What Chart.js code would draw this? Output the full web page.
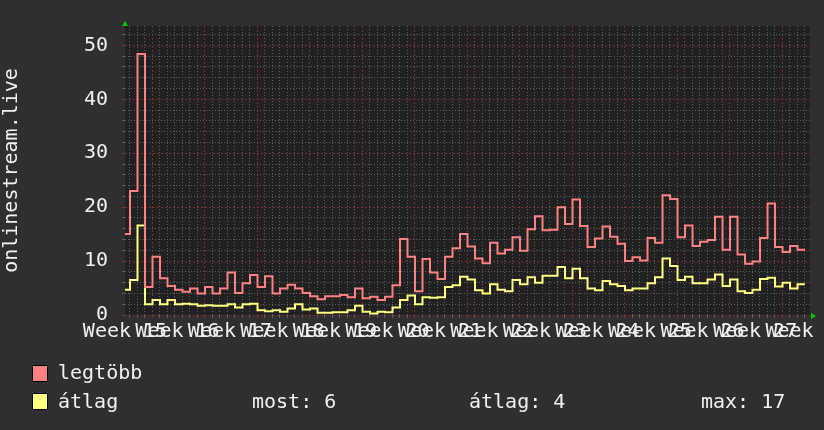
<!DOCTYPE html>
<html>
<head>
<meta charset="utf-8">
<script src="https://cdn.jsdelivr.net/npm/chart.js@4"></script>
<style>
  body { margin: 0; background: #2f2f2f; }
  #wrap { position: relative; width: 824px; height: 430px; background: #2f2f2f; overflow: hidden; }
  #wrap canvas { position: absolute; left: 0; top: 0; }
  .leg { position: absolute; font: 20px 'DejaVu Sans Mono', monospace; line-height: 24px; color: #f0f0f0; white-space: pre; }
  .box { position: absolute; width: 14px; height: 15px; border: 1px solid #000; }
</style>
</head>
<body>
<div id="wrap">
  <canvas id="c" width="824" height="430"></canvas>
</div>
<script>
// daily samples
const maxValues = [
  15.0, 23.0, 48.4, 5.2, 10.8, 6.8, 5.4, 4.7, 4.3, 4.9,
  4.0, 5.2, 4.0, 4.9, 7.9, 4.1, 5.9, 7.4, 5.2, 7.2,
  4.0, 4.9, 5.6, 4.9, 4.1, 3.5, 2.9, 3.5, 3.5, 3.7,
  3.3, 4.9, 3.1, 3.4, 2.8, 3.4, 5.5, 14.1, 10.8, 4.4,
  10.4, 7.9, 6.7, 10.8, 12.4, 15.0, 12.7, 10.5, 9.6, 13.4,
  11.4, 12.1, 14.4, 11.9, 15.9, 18.3, 15.7, 15.8, 20.0, 16.9,
  21.4, 16.5, 12.6, 14.2, 16.4, 14.5, 13.2, 10.0, 10.7, 10.1,
  14.3, 13.4, 22.2, 21.5, 14.4, 16.6, 12.8, 13.6, 13.9, 18.2,
  12.1, 18.2, 11.2, 9.5, 9.9, 14.3, 20.7, 12.6, 11.7, 12.8,
  12.1
];
const avgValues = [
  4.7, 6.5, 16.6, 2.0, 2.8, 2.0, 2.8, 2.0, 2.1, 2.0,
  1.7, 1.8, 1.7, 1.7, 2.0, 1.4, 2.0, 2.1, 0.9, 0.7,
  0.9, 0.6, 1.2, 2.0, 1.0, 1.2, 0.4, 0.4, 0.5, 0.5,
  0.9, 1.7, 0.6, 0.3, 0.6, 0.5, 1.4, 2.8, 3.6, 2.0,
  3.3, 3.2, 3.3, 5.2, 5.5, 7.1, 6.6, 4.6, 4.0, 5.7,
  4.7, 4.4, 6.5, 5.7, 7.0, 6.0, 7.3, 7.3, 8.9, 6.8,
  8.6, 6.8, 4.9, 4.6, 6.3, 5.7, 5.4, 4.6, 4.9, 4.9,
  5.9, 7.0, 10.5, 9.1, 6.5, 7.1, 5.9, 5.9, 6.6, 7.5,
  5.4, 6.6, 4.4, 4.1, 4.7, 6.7, 6.9, 5.3, 6.0, 4.9,
  5.7
];
const weekLabels = ['Week 15', 'Week 16', 'Week 17', 'Week 18', 'Week 19', 'Week 20', 'Week 21',
  'Week 22', 'Week 23', 'Week 24', 'Week 25', 'Week 26', 'Week 27', 'Week 28'];
const seriesNames = ['legtöbb', 'átlag'];
const seriesColors = ['#ff8080', '#ffff80'];
const statTexts = ['most: 6', 'átlag: 4', 'max: 17'];
const yTitle = 'onlinestream.live';

// time axis in days from the left edge of the plot
const daysShown = 91.33;
const firstSampleDay = -1 / 3;
const firstGridDay = 0.6;
const firstWeekLineDay = 3.6;
const yMax = 53.6;

const FONT = 'DejaVu Sans Mono';
const MINOR = '#5e5e5e';
const MAJOR = '#743232';

function toPoints(values) {
  const pts = values.map((v, i) => ({ x: firstSampleDay + i, y: v }));
  // close the last step
  pts.push({ x: firstSampleDay + values.length, y: values[values.length - 1] });
  return pts;
}

function isWeekLine(v) {
  const d = (v - firstWeekLineDay) / 7;
  return Math.abs(d - Math.round(d)) < 0.01;
}

const bgPlugin = {
  id: 'bg',
  beforeDraw(chart) {
    const { ctx, chartArea: a } = chart;
    ctx.save();
    ctx.fillStyle = '#2f2f2f';
    ctx.fillRect(0, 0, chart.width, chart.height);
    ctx.fillStyle = '#212121';
    ctx.fillRect(a.left, a.top, a.right - a.left, a.bottom - a.top);
    ctx.restore();
  }
};

const arrowPlugin = {
  id: 'arrows',
  afterDraw(chart) {
    const { ctx, chartArea: a } = chart;
    ctx.save();
    ctx.fillStyle = '#00cc00';
    ctx.beginPath();
    ctx.moveTo(a.left, a.top - 5);
    ctx.lineTo(a.left - 3, a.top);
    ctx.lineTo(a.left + 3, a.top);
    ctx.fill();
    ctx.beginPath();
    ctx.moveTo(a.right + 6, a.bottom + 1);
    ctx.lineTo(a.right + 1, a.bottom - 2);
    ctx.lineTo(a.right + 1, a.bottom + 4);
    ctx.fill();
    ctx.restore();
  }
};

new Chart(document.getElementById('c'), {
  type: 'line',
  data: {
    datasets: [
      { label: seriesNames[0], data: toPoints(maxValues), borderColor: seriesColors[0], borderWidth: 2, pointRadius: 0, stepped: true, xAxisID: 'x' },
      { label: seriesNames[1], data: toPoints(avgValues), borderColor: seriesColors[1], borderWidth: 2, pointRadius: 0, stepped: true, xAxisID: 'x' }
    ]
  },
  options: {
    responsive: false,
    animation: false,
    devicePixelRatio: 1,
    layout: { padding: { top: 13, right: 14, left: 0, bottom: 0 } },
    plugins: { legend: { display: false }, tooltip: { enabled: false } },
    scales: {
      x: {
        type: 'linear',
        position: 'bottom',
        weight: 0,
        min: 0,
        max: daysShown,
        afterBuildTicks(scale) {
          const t = [];
          for (let d = firstGridDay; d < daysShown; d += 1) t.push({ value: d });
          scale.ticks = t;
        },
        afterFit(scale) { scale.height = 3; scale.paddingLeft = 0; scale.paddingRight = 0; },
        ticks: { display: false, autoSkip: false },
        border: { display: false, dash: ctx => (ctx.tick && isWeekLine(ctx.tick.value)) ? [2, 2] : [1, 2] },
        grid: {
          drawTicks: true,
          tickLength: 3,
          color: ctx => (ctx.tick && isWeekLine(ctx.tick.value)) ? MAJOR : MINOR
        }
      },
      xl: {
        type: 'linear',
        position: 'bottom',
        weight: 1,
        min: 0,
        max: daysShown,
        afterBuildTicks(scale) {
          scale.ticks = weekLabels.map((_, i) => ({ value: i * 7 }));
        },
        afterFit(scale) { scale.height = 112; scale.paddingLeft = 0; scale.paddingRight = 0; },
        border: { display: false },
        grid: { display: false, drawTicks: false },
        ticks: {
          autoSkip: false,
          maxRotation: 0,
          minRotation: 0,
          padding: 2,
          color: '#f0f0f0',
          font: { family: FONT, size: 20 },
          callback: (v, i) => weekLabels[i]
        }
      },
      y: {
        min: 0,
        max: yMax,
        afterBuildTicks(scale) {
          const t = [];
          for (let v = 0; v <= yMax; v += 2) t.push({ value: v });
          scale.ticks = t;
        },
        afterFit(scale) { scale.width = 125; },
        border: { display: false, dash: ctx => (ctx.tick && ctx.tick.value % 10 === 0) ? [2, 2] : [1, 2] },
        grid: {
          tickLength: 3,
          color: ctx => (ctx.tick && ctx.tick.value % 10 === 0) ? MAJOR : MINOR
        },
        ticks: {
          autoSkip: false,
          padding: 14,
          color: '#f0f0f0',
          font: { family: FONT, size: 20 },
          callback: v => (v % 10 === 0 ? String(v) : '')
        },
        title: {
          display: true,
          text: yTitle,
          color: '#f0f0f0',
          padding: { top: 0, bottom: 0 },
          font: { family: FONT, size: 20 }
        }
      }
    }
  },
  plugins: [bgPlugin, arrowPlugin]
});

// legend below the plot
const wrap = document.getElementById('wrap');
function addText(txt, left, top) {
  const d = document.createElement('div');
  d.className = 'leg';
  d.style.left = left + 'px';
  d.style.top = top + 'px';
  d.textContent = txt;
  wrap.appendChild(d);
}
function addBox(color, top) {
  const b = document.createElement('div');
  b.className = 'box';
  b.style.left = '32px';
  b.style.top = top + 'px';
  b.style.background = color;
  wrap.appendChild(b);
}
addBox(seriesColors[0], 365);
addText(seriesNames[0], 58, 360);
addBox(seriesColors[1], 393);
addText(seriesNames[1], 58, 389);
addText(statTexts[0], 252, 389);
addText(statTexts[1], 469, 389);
addText(statTexts[2], 701, 389);
</script>
</body>
</html>
